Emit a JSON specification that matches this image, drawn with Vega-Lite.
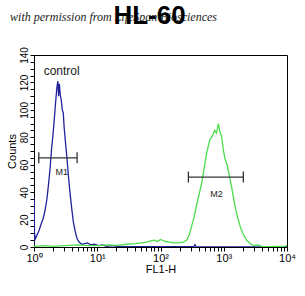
{
  "$schema": "https://vega.github.io/schema/vega-lite/v6.json",
  "width": 253,
  "height": 192,
  "autosize": {"type": "none"},
  "padding": {"left": 34, "top": 55, "right": 18, "bottom": 49},
  "background": "white",
  "config": {
    "view": {"stroke": "black", "strokeWidth": 1},
    "font": "Liberation Sans",
    "axis": {"domain": false, "grid": false, "tickColor": "black", "labelColor": "black", "titleColor": "black", "labelFont": "Liberation Sans", "titleFont": "Liberation Sans", "titleFontWeight": "normal", "labelOverlap": false}
  },
  "title": {"text": "HL-60", "fontSize": 26, "fontWeight": "bold", "font": "Liberation Sans", "anchor": "middle", "frame": "group", "dx": -11, "offset": -18, "color": "black"},
  "datasets": {
    "hist": [
      {"s": "control", "i": 0, "x": 1.0, "c": 0},
      {"s": "control", "i": 1, "x": 1.003, "c": 36},
      {"s": "control", "i": 2, "x": 1.02, "c": 10},
      {"s": "control", "i": 3, "x": 1.05, "c": 6},
      {"s": "control", "i": 4, "x": 1.1, "c": 8},
      {"s": "control", "i": 5, "x": 1.2, "c": 12},
      {"s": "control", "i": 6, "x": 1.3, "c": 17},
      {"s": "control", "i": 7, "x": 1.4, "c": 21},
      {"s": "control", "i": 8, "x": 1.5, "c": 27},
      {"s": "control", "i": 9, "x": 1.6, "c": 35},
      {"s": "control", "i": 10, "x": 1.7, "c": 46},
      {"s": "control", "i": 11, "x": 1.8, "c": 58},
      {"s": "control", "i": 12, "x": 1.9, "c": 72},
      {"s": "control", "i": 13, "x": 2.0, "c": 82},
      {"s": "control", "i": 14, "x": 2.1, "c": 94},
      {"s": "control", "i": 15, "x": 2.2, "c": 106},
      {"s": "control", "i": 16, "x": 2.3, "c": 116},
      {"s": "control", "i": 17, "x": 2.38, "c": 121},
      {"s": "control", "i": 18, "x": 2.45, "c": 110},
      {"s": "control", "i": 19, "x": 2.52, "c": 119},
      {"s": "control", "i": 20, "x": 2.6, "c": 111},
      {"s": "control", "i": 21, "x": 2.7, "c": 107},
      {"s": "control", "i": 22, "x": 2.8, "c": 100},
      {"s": "control", "i": 23, "x": 2.9, "c": 98},
      {"s": "control", "i": 24, "x": 3.0, "c": 87},
      {"s": "control", "i": 25, "x": 3.15, "c": 76},
      {"s": "control", "i": 26, "x": 3.3, "c": 66},
      {"s": "control", "i": 27, "x": 3.5, "c": 52},
      {"s": "control", "i": 28, "x": 3.7, "c": 40},
      {"s": "control", "i": 29, "x": 3.95, "c": 28},
      {"s": "control", "i": 30, "x": 4.2, "c": 18},
      {"s": "control", "i": 31, "x": 4.5, "c": 11},
      {"s": "control", "i": 32, "x": 4.8, "c": 6},
      {"s": "control", "i": 33, "x": 5.2, "c": 3.5},
      {"s": "control", "i": 34, "x": 5.7, "c": 2},
      {"s": "control", "i": 35, "x": 6.3, "c": 2.5},
      {"s": "control", "i": 36, "x": 7.0, "c": 3},
      {"s": "control", "i": 37, "x": 8.0, "c": 1.5},
      {"s": "control", "i": 38, "x": 9.0, "c": 2},
      {"s": "control", "i": 39, "x": 10.5, "c": 1},
      {"s": "control", "i": 40, "x": 12, "c": 1.5},
      {"s": "control", "i": 41, "x": 14, "c": 0.5},
      {"s": "control", "i": 42, "x": 17, "c": 1},
      {"s": "control", "i": 43, "x": 22, "c": 0.3},
      {"s": "control", "i": 44, "x": 35, "c": 0.3},
      {"s": "control", "i": 45, "x": 60, "c": 0.2},
      {"s": "control", "i": 46, "x": 120, "c": 0.3},
      {"s": "control", "i": 47, "x": 250, "c": 0.2},
      {"s": "control", "i": 48, "x": 335, "c": 0.2},
      {"s": "control", "i": 49, "x": 350, "c": 1.8},
      {"s": "control", "i": 50, "x": 365, "c": 0.2},
      {"s": "control", "i": 51, "x": 1000, "c": 0.1},
      {"s": "control", "i": 52, "x": 10000, "c": 0.1},
      {"s": "sample", "i": 0, "x": 1.0, "c": 0.5},
      {"s": "sample", "i": 1, "x": 1.5, "c": 1},
      {"s": "sample", "i": 2, "x": 2, "c": 0.5},
      {"s": "sample", "i": 3, "x": 3, "c": 1},
      {"s": "sample", "i": 4, "x": 5, "c": 1.5},
      {"s": "sample", "i": 5, "x": 7, "c": 1},
      {"s": "sample", "i": 6, "x": 10, "c": 1},
      {"s": "sample", "i": 7, "x": 15, "c": 1.5},
      {"s": "sample", "i": 8, "x": 20, "c": 1.2},
      {"s": "sample", "i": 9, "x": 30, "c": 2},
      {"s": "sample", "i": 10, "x": 40, "c": 2.5},
      {"s": "sample", "i": 11, "x": 50, "c": 3},
      {"s": "sample", "i": 12, "x": 60, "c": 3.5},
      {"s": "sample", "i": 13, "x": 70, "c": 4.5},
      {"s": "sample", "i": 14, "x": 80, "c": 5},
      {"s": "sample", "i": 15, "x": 90, "c": 4},
      {"s": "sample", "i": 16, "x": 100, "c": 5.5},
      {"s": "sample", "i": 17, "x": 120, "c": 4},
      {"s": "sample", "i": 18, "x": 140, "c": 3.5},
      {"s": "sample", "i": 19, "x": 160, "c": 3},
      {"s": "sample", "i": 20, "x": 180, "c": 3},
      {"s": "sample", "i": 21, "x": 200, "c": 3},
      {"s": "sample", "i": 22, "x": 230, "c": 3.5},
      {"s": "sample", "i": 23, "x": 260, "c": 5},
      {"s": "sample", "i": 24, "x": 285, "c": 9},
      {"s": "sample", "i": 25, "x": 310, "c": 15},
      {"s": "sample", "i": 26, "x": 340, "c": 22},
      {"s": "sample", "i": 27, "x": 370, "c": 30},
      {"s": "sample", "i": 28, "x": 410, "c": 39},
      {"s": "sample", "i": 29, "x": 450, "c": 47},
      {"s": "sample", "i": 30, "x": 500, "c": 60},
      {"s": "sample", "i": 31, "x": 540, "c": 69},
      {"s": "sample", "i": 32, "x": 600, "c": 78},
      {"s": "sample", "i": 33, "x": 660, "c": 81},
      {"s": "sample", "i": 34, "x": 720, "c": 85},
      {"s": "sample", "i": 35, "x": 770, "c": 83},
      {"s": "sample", "i": 36, "x": 820, "c": 90},
      {"s": "sample", "i": 37, "x": 870, "c": 84},
      {"s": "sample", "i": 38, "x": 930, "c": 80},
      {"s": "sample", "i": 39, "x": 990, "c": 70},
      {"s": "sample", "i": 40, "x": 1050, "c": 64},
      {"s": "sample", "i": 41, "x": 1130, "c": 60},
      {"s": "sample", "i": 42, "x": 1200, "c": 54},
      {"s": "sample", "i": 43, "x": 1330, "c": 44},
      {"s": "sample", "i": 44, "x": 1500, "c": 30},
      {"s": "sample", "i": 45, "x": 1650, "c": 22},
      {"s": "sample", "i": 46, "x": 1820, "c": 15},
      {"s": "sample", "i": 47, "x": 2000, "c": 10},
      {"s": "sample", "i": 48, "x": 2290, "c": 5},
      {"s": "sample", "i": 49, "x": 2700, "c": 2},
      {"s": "sample", "i": 50, "x": 3000, "c": 1},
      {"s": "sample", "i": 51, "x": 3500, "c": 1.5},
      {"s": "sample", "i": 52, "x": 4000, "c": 0.5},
      {"s": "sample", "i": 53, "x": 5000, "c": 0.3},
      {"s": "sample", "i": 54, "x": 7000, "c": 0.5},
      {"s": "sample", "i": 55, "x": 9000, "c": 0.3},
      {"s": "sample", "i": 56, "x": 10000, "c": 1}
    ],
    "markers": [
      {"x": 1.19, "x2": 4.8, "c": 65, "c2": 65},
      {"x": 1.19, "x2": 1.19, "c": 61, "c2": 69},
      {"x": 4.8, "x2": 4.8, "c": 61, "c2": 69},
      {"x": 276, "x2": 2040, "c": 51, "c2": 51},
      {"x": 276, "x2": 276, "c": 47, "c2": 55},
      {"x": 2040, "x2": 2040, "c": 47, "c2": 55}
    ],
    "labels": [
      {"x": 2.74, "c": 55, "t": "M1", "size": 9},
      {"x": 770, "c": 39, "t": "M2", "size": 9},
      {"x": 2.74, "c": 128.5, "t": "control", "size": 12}
    ],
    "note": [
      {"x": 18.1, "c": 168, "t": "with permission from LifeSpan Biosciences"}
    ]
  },
  "encoding": {
    "x": {"field": "x", "type": "quantitative",
      "scale": {"type": "log", "domain": [1, 10000]},
      "axis": {"title": "FL1-H", "titleFontSize": 11, "titlePadding": 0, "labelFontSize": 11, "tickSize": 4, "labelPadding": 1, "labelOverlap": false, "labelFlush": false,
        "values": [1,2,3,4,5,6,7,8,9,10,20,30,40,50,60,70,80,90,100,200,300,400,500,600,700,800,900,1000,2000,3000,4000,5000,6000,7000,8000,9000,10000],
        "labelExpr": "datum.value == 1 ? '10⁰' : datum.value == 10 ? '10¹' : datum.value == 100 ? '10²' : datum.value == 1000 ? '10³' : datum.value == 10000 ? '10⁴' : ''"}},
    "y": {"field": "c", "type": "quantitative",
      "scale": {"domain": [0, 140]},
      "axis": {"title": "Counts", "titleFontSize": 11, "titlePadding": 2, "labelFontSize": 10, "labelAngle": -90, "labelAlign": "center", "labelBaseline": "bottom", "tickSize": 4, "labelPadding": 1, "labelOverlap": false, "labelFlush": false,
        "values": [0,5,10,15,20,25,30,35,40,45,50,55,60,65,70,75,80,85,90,95,100,105,110,115,120,125,130,135,140],
        "labelExpr": "datum.value % 20 == 0 ? datum.label : ''"}}
  },
  "layer": [
    {
      "data": {"name": "hist"},
      "mark": {"type": "line", "strokeWidth": 1.3, "clip": true},
      "encoding": {
        "color": {"field": "s", "type": "nominal", "scale": {"domain": ["control", "sample"], "range": ["#22229c", "#4cdc4c"]}, "legend": null},
        "order": {"field": "i", "type": "quantitative"}
      }
    },
    {
      "data": {"name": "markers"},
      "mark": {"type": "rule", "color": "#333", "strokeWidth": 1.3},
      "encoding": {
        "x2": {"field": "x2"},
        "y2": {"field": "c2"}
      }
    },
    {
      "data": {"name": "labels"},
      "mark": {"type": "text", "color": "#222", "baseline": "middle"},
      "encoding": {
        "text": {"field": "t"},
        "size": {"field": "size", "type": "quantitative", "scale": null}
      }
    },
    {
      "data": {"name": "note"},
      "mark": {"type": "text", "font": "Liberation Serif", "fontStyle": "italic", "fontSize": 12, "color": "#222", "baseline": "middle"},
      "encoding": {
        "text": {"field": "t"}
      }
    }
  ]
}
